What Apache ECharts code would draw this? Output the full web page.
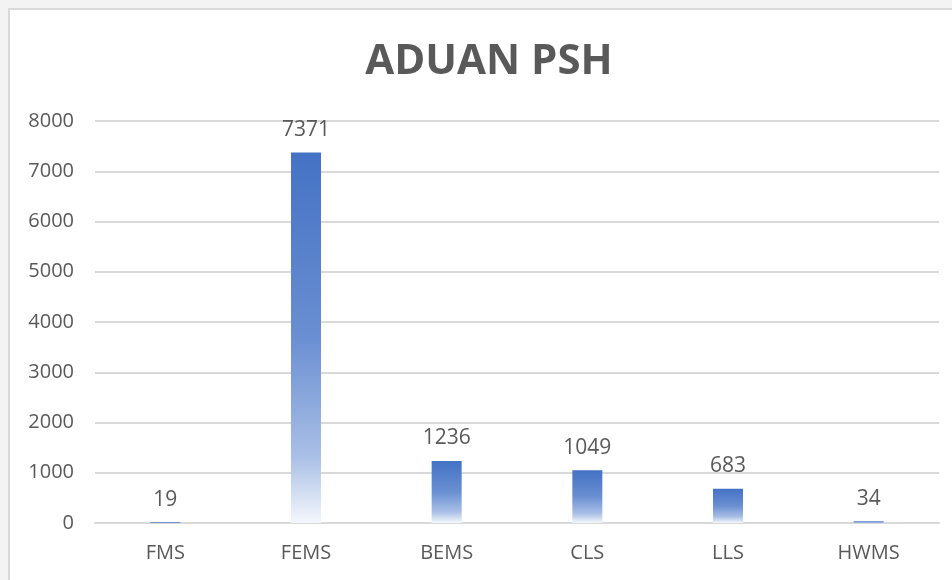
<!DOCTYPE html>
<html>
<head>
<meta charset="utf-8">
<title>ADUAN PSH</title>
<script src="https://cdn.jsdelivr.net/npm/echarts@6/dist/echarts.min.js"></script>
<style>
  html, body { margin: 0; padding: 0; width: 952px; height: 580px; overflow: hidden; background: #f3f3f3; }
  .card { position: absolute; left: 8px; top: 8px; width: 960px; height: 590px; background: #fff; border: 2px solid #d9d9d9; box-sizing: border-box; }
  #chart { position: absolute; left: 0; top: 0; width: 952px; height: 580px; }
</style>
</head>
<body>
<div class="card"></div>
<div id="chart"></div>
<script>
// data
const categories = ['FMS', 'FEMS', 'BEMS', 'CLS', 'LLS', 'HWMS'];
const aduan = [19, 7371, 1236, 1049, 683, 34];
const yTicks = [0, 1000, 2000, 3000, 4000, 5000, 6000, 7000, 8000];

const textColor = '#595959';
const font = '"Open Sans", "Noto Sans", sans-serif';

const chart = echarts.init(document.getElementById('chart'));

const option = {
  backgroundColor: 'transparent',
  animation: false,
  title: {
    text: 'ADUAN PSH',
    left: 484,
    top: 36,
    textAlign: 'center',
    textStyle: {
      color: textColor,
      fontFamily: font,
      fontWeight: 'bold',
      fontSize: 42
    }
  },
  grid: {
    left: 95,
    right: 13,
    top: 121,
    bottom: 57
  },
  xAxis: {
    type: 'category',
    data: categories,
    axisTick: { show: false },
    axisLine: { lineStyle: { color: '#d9d9d9', width: 2 } },
    axisLabel: {
      color: textColor,
      fontFamily: font,
      fontSize: 20,
      margin: 20
    }
  },
  yAxis: {
    type: 'value',
    min: yTicks[0],
    max: yTicks[yTicks.length - 1],
    interval: 1000,
    axisLine: { show: false },
    axisTick: { show: false },
    axisLabel: {
      color: textColor,
      fontFamily: font,
      fontSize: 20,
      margin: 21,
      formatter: v => String(v)
    },
    splitLine: { lineStyle: { color: '#d9d9d9', width: 2 } }
  },
  series: [{
    name: 'ADUAN',
    type: 'bar',
    data: aduan,
    barWidth: 30,
    itemStyle: {
      color: new echarts.graphic.LinearGradient(0, 0, 0, 1, [
        { offset: 0, color: '#4472c4' },
        { offset: 0.5, color: '#6a8fd2' },
        { offset: 0.82, color: '#a9bfe6' },
        { offset: 1, color: '#f4f7fc' }
      ])
    },
    label: {
      show: true,
      position: 'top',
      distance: 12,
      color: textColor,
      fontFamily: font,
      fontSize: 21
    }
  }]
};

chart.setOption(option);
</script>
</body>
</html>
